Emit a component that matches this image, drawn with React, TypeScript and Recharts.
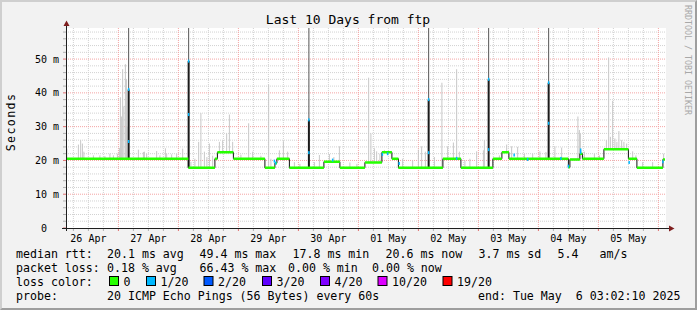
import { ComposedChart, Line, Scatter, XAxis, YAxis, CartesianGrid } from 'recharts'

const MONO = '"DejaVu Sans Mono", monospace'

// hours since 26 Apr 00:00 -> median rtt (ms), a new level starts at each hour
const stepHours = [3.04, 52.0, 62.6, 63.6, 70.0, 82.6, 86.6, 87.4, 92.4, 106.2, 112.6, 122.6, 129.4, 133.4, 136.0, 153.8, 161.0, 173.8, 177.4, 180.2, 204.0, 204.6, 208.6, 209.6, 218.2, 228.0, 231.4, 241.8]
const stepMedian = [20.5, 17.8, 20.5, 22.4, 20.5, 17.8, 19.2, 20.5, 17.8, 19.6, 17.8, 19.4, 22.4, 20.5, 17.8, 20.5, 17.8, 20.5, 22.4, 20.5, 18.0, 20.3, 22.0, 20.5, 23.3, 20.5, 17.8, 20.3]
const lastHour = 242.6

// tall dark spikes: dense part ends at spikeCore, thin part runs off the top
const spikeHours = [28.1, 52.1, 100.2, 148.1, 172.1, 196.1]
const spikeCore = [41, 49.4, 32, 38, 44, 43]

// light smoke (max ping) per time slot
const smokeHours = [3.4, 8.0, 8.9, 9.6, 10.2, 14.0, 16.6, 18.6, 20.6, 22.0, 23.6, 24.4, 24.8, 25.2, 25.7, 26.2, 26.8, 27.2, 27.4, 32.0, 34.0, 34.4, 35.3, 39.3, 40.6, 42.8, 43.3, 45.3, 47.3, 49.7, 53.0, 54.6, 56.1, 57.0, 58.4, 59.4, 60.4, 61.7, 64.4, 65.7, 67.3, 68.4, 69.7, 73.0, 76.1, 77.7, 81.0, 84.1, 85.0, 88.4, 90.0, 91.7, 94.4, 96.6, 102.4, 104.4, 108.4, 110.2, 112.4, 116.6, 119.4, 124.1, 125.0, 126.4, 127.3, 128.6, 130.4, 137.7, 141.7, 144.0, 145.3, 146.8, 150.4, 153.4, 155.7, 158.0, 159.3, 160.4, 162.6, 164.6, 167.3, 170.0, 170.4, 176.4, 179.3, 181.3, 183.7, 186.4, 189.7, 192.6, 195.0, 198.6, 201.3, 207.8, 208.4, 208.8, 210.4, 214.4, 216.4, 219.2, 220.1, 220.8, 221.7, 222.6, 223.4, 224.2, 225.3, 226.2, 227.3, 229.7, 231.0, 233.7, 237.7, 242.1]
const smokeTop = [23.5, 24.7, 26, 25, 22.6, 21.5, 21.5, 21.3, 22, 21.5, 22, 23.7, 38.7, 33, 47, 36, 48.5, 44, 30, 23.2, 22.5, 22.6, 22, 22.8, 21.5, 23.6, 22, 21.8, 22, 23.5, 19.6, 20.5, 25.5, 34, 22.6, 21, 25, 21.4, 25.5, 25.9, 28, 33.6, 25.5, 21.7, 31, 22.6, 21.4, 42.5, 20.5, 23, 25.7, 22.6, 19.5, 19, 19.5, 21.6, 21.9, 21, 24.2, 19.4, 19, 44.5, 28, 23.6, 22.7, 22, 23.1, 20.5, 20, 23.2, 24.2, 22.6, 21, 43, 24.2, 25.3, 47, 22.6, 20, 20.5, 22.7, 23, 26, 21.5, 24.7, 24.2, 24, 22, 22, 22.7, 22.5, 24.2, 23.8, 33, 29, 28, 22.6, 22, 21.5, 26, 50.5, 27, 37.6, 26.5, 25.5, 28.7, 26, 25.5, 25, 22.7, 21.5, 19.5, 19.5, 22]

// 1/20 packet loss samples
const lossHours = [28.1, 28.1, 52.1, 52.1, 86.4, 86.9, 100.2, 100.2, 109.7, 129.6, 131.7, 136.3, 148.1, 148.1, 159.3, 172.1, 172.1, 182.3, 187.7, 196.1, 196.1, 201.0, 204.0, 208.9, 208.9, 228.3, 241.8]
const lossValues = [41, 25.6, 49.4, 33.6, 19.8, 19.2, 32, 22.3, 20.1, 21.8, 22.0, 19.1, 38, 22.3, 20.6, 44, 23.2, 21.6, 20.3, 43, 31, 20.6, 18.3, 23.1, 22.4, 19.4, 19.6]

const dayTickHours = [12, 36, 60, 84, 108, 132, 156, 180, 204, 228]
const dayTickLabels = ['26 Apr', '27 Apr', '28 Apr', '29 Apr', '30 Apr', '01 May', '02 May', '03 May', '04 May', '05 May']
const yLabelValues = [0, 10, 20, 30, 40, 50]
const yLabels = ['0', '10 m', '20 m', '30 m', '40 m', '50 m']

const lossNames = ['0', '1/20', '2/20', '3/20', '4/20', '10/20', '19/20']
const lossColors = ['#26ff00', '#00b8ff', '#0059ff', '#5e00ff', '#7e00ff', '#dd00ff', '#ff0000']

const X_DOMAIN = [3.04, 243.04]
const Y_MAX = 59.2

const sixHours: number[] = []
for (let h = 6; h <= 240; h += 6) sixHours.push(h)
const twoMs: number[] = []
for (let v = 0; v <= 58; v += 2) twoMs.push(v)
const minorX = sixHours.filter((h) => h % 24 !== 0)
const majorX = sixHours.filter((h) => h % 24 === 0)
const minorY = twoMs.filter((v) => v % 10 !== 0)
const majorY = twoMs.filter((v) => v % 10 === 0 && v > 0)

function medianAt(t: number) {
  let v = stepMedian[0]
  stepHours.forEach((h, i) => {
    if (h <= t) v = stepMedian[i]
  })
  return v
}

const stepEnd = (i: number) => (i + 1 < stepHours.length ? stepHours[i + 1] : lastHour)

const medianPath = [
  ...stepHours.map((t, i) => ({ t, v: stepMedian[i] })),
  { t: lastHour, v: stepMedian[stepMedian.length - 1] },
]
const greenSegs = stepHours.flatMap((t, i) => [
  { t, v: stepMedian[i] },
  { t: stepEnd(i), v: stepMedian[i] },
  { t: stepEnd(i), v: null },
])
const smokeSegs = smokeHours.flatMap((t, i) => [
  { t, v: medianAt(t) },
  { t, v: smokeTop[i] },
  { t, v: null },
])
const spikeCoreSegs = spikeHours.flatMap((t, i) => [
  { t, v: medianAt(t) },
  { t, v: spikeCore[i] },
  { t, v: null },
])
const spikeThinSegs = spikeHours.flatMap((t, i) => [
  { t, v: spikeCore[i] },
  { t, v: Y_MAX },
  { t, v: null },
])
const lossPoints = lossHours.map((t, i) => ({ t, v: lossValues[i] }))

function XTick(props: any) {
  const { x, y, payload } = props
  const h = payload.value
  const idx = dayTickHours.indexOf(h)
  return (
    <g>
      <line x1={x} x2={x} y1={y + 1} y2={y + 3} stroke={h % 24 === 0 ? '#e07070' : '#b0b0b0'} />
      {idx >= 0 && (
        <text x={x} y={y + 14} textAnchor="middle" fontFamily={MONO} fontSize={10} fill="#000">
          {dayTickLabels[idx]}
        </text>
      )}
    </g>
  )
}

function YTick(props: any) {
  const { x, y, payload } = props
  const v = payload.value
  const idx = yLabelValues.indexOf(v)
  return (
    <g>
      <line x1={x - 3} x2={x} y1={y} y2={y} stroke={v % 10 === 0 ? '#e07070' : '#b0b0b0'} />
      {idx >= 0 && (
        <text x={x - (v === 0 ? 19 : 7)} y={y + 3.5} textAnchor="end" fontFamily={MONO} fontSize={10} fill="#000">
          {yLabels[idx]}
        </text>
      )}
    </g>
  )
}

const row1 = [[16, 'median rtt:'], [107, '20.1 ms avg'], [199.5, '49.4 ms max'], [292.5, '17.8 ms min'], [385.5, '20.6 ms now'], [478.5, '3.7 ms sd'], [557.5, '5.4'], [599.5, 'am/s']]
const row2 = [[16, 'packet loss:'], [107, '0.18 % avg'], [199.5, '66.43 % max'], [288, '0.00 % min'], [372, '0.00 % now']]
const row4 = [[16, 'probe:'], [107, '20 ICMP Echo Pings (56 Bytes) every 60s'], [478, 'end: Tue May  6 03:02:10 2025']]
const swatchX = [109, 146, 203.5, 262, 320, 377.5, 442.5]

export default function App() {
  const legendText = (items: any[], y: number) =>
    items.map(([x, s]) => (
      <text key={s} x={x} y={y} fontFamily={MONO} fontSize={11.6} fill="#000" style={{ whiteSpace: 'pre' }}>
        {s}
      </text>
    ))

  return (
    <div
      style={{
        position: 'absolute',
        left: 0,
        top: 0,
        width: 697,
        height: 310,
        boxSizing: 'border-box',
        background: '#f2f2f2',
        borderTop: '2px solid #cfcfcf',
        borderLeft: '2px solid #cfcfcf',
        borderRight: '2px solid #9e9e9e',
        borderBottom: '2px solid #9e9e9e',
      }}
    >
      <div style={{ position: 'absolute', left: -2, top: -2 }}>
        <ComposedChart width={697} height={310} margin={{ top: 28, right: 31, bottom: 62, left: 0 }}>
          <CartesianGrid fill="#ffffff" stroke="#d2d2d2" strokeDasharray="1 1" horizontalValues={minorY} verticalValues={minorX} />
          <CartesianGrid fill="none" stroke="#f4a4a4" strokeDasharray="1 1" horizontalValues={majorY} verticalValues={majorX} />
          <XAxis
            type="number"
            dataKey="t"
            domain={X_DOMAIN}
            ticks={sixHours}
            interval={0}
            height={20}
            axisLine={false}
            tickLine={false}
            tickSize={0}
            tickMargin={0}
            tick={XTick}
            allowDataOverflow
          />
          <YAxis
            type="number"
            dataKey="v"
            domain={[0, Y_MAX]}
            ticks={twoMs}
            interval={0}
            width={66}
            axisLine={false}
            tickLine={false}
            tickSize={0}
            tickMargin={0}
            tick={YTick}
            allowDataOverflow
          />
          <Line data={smokeSegs} dataKey="v" stroke="#c8c8c8" strokeWidth={1} dot={false} isAnimationActive={false} />
          <Line data={spikeThinSegs} dataKey="v" stroke="#555555" strokeWidth={1} dot={false} isAnimationActive={false} />
          <Line data={spikeCoreSegs} dataKey="v" stroke="#1a1a1a" strokeWidth={2} dot={false} isAnimationActive={false} />
          <Line data={medianPath} type="stepAfter" dataKey="v" stroke="#111111" strokeWidth={1} dot={false} isAnimationActive={false} />
          <Line data={greenSegs} dataKey="v" stroke={lossColors[0]} strokeWidth={2.5} strokeLinecap="butt" dot={false} isAnimationActive={false} />
          <Scatter
            data={lossPoints}
            dataKey="v"
            isAnimationActive={false}
            shape={(p: any) => <rect x={p.cx - 0.75} y={p.cy - 1.5} width={1.5} height={3} fill={lossColors[1]} />}
          />
        </ComposedChart>
      </div>
      <svg width={697} height={310} style={{ position: 'absolute', left: -2, top: -2, pointerEvents: 'none' }}>
        <line x1={66.5} x2={66.5} y1={25} y2={231} stroke="#1f1f1f" />
        <line x1={62} x2={670} y1={228.5} y2={228.5} stroke="#1f1f1f" />
        <polygon points="66.5,20.5 63.5,26 69.5,26" fill="#7f1f1f" />
        <polygon points="674.5,228.5 669,225.5 669,231.5" fill="#7f1f1f" />
        <text x={348} y={24} textAnchor="middle" fontFamily={MONO} fontSize={13} fill="#000">
          Last 10 Days from ftp
        </text>
        <text
          x={14.5}
          y={122}
          textAnchor="middle"
          fontFamily={MONO}
          fontSize={11.6}
          letterSpacing={1.4}
          transform="rotate(-90 14.5 122)"
          fill="#000"
        >
          Seconds
        </text>
        <text x={685} y={5} fontFamily={MONO} fontSize={8.3} fill="#a8a8a8" transform="rotate(90 685 5)">
          RRDTOOL / TOBI OETIKER
        </text>
        {legendText(row1, 258)}
        {legendText(row2, 272)}
        <text x={16} y={286} fontFamily={MONO} fontSize={11.6} fill="#000">
          loss color:
        </text>
        {lossNames.map((n, i) => (
          <g key={n}>
            <rect x={swatchX[i] + 0.5} y={276.5} width={9} height={9} fill={lossColors[i]} stroke="#000" />
            <text x={swatchX[i] + 14.5} y={286} fontFamily={MONO} fontSize={11.6} fill="#000">
              {n}
            </text>
          </g>
        ))}
        {legendText(row4, 300)}
      </svg>
    </div>
  )
}
